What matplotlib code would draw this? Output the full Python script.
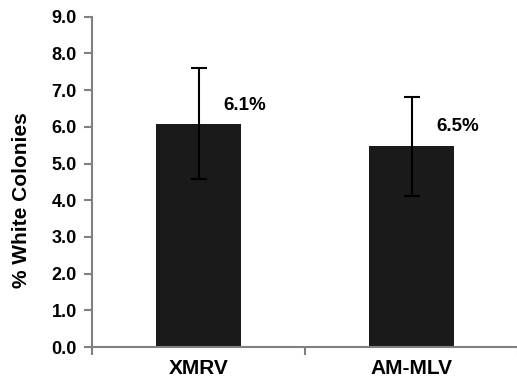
import matplotlib
matplotlib.use("Agg")
import matplotlib.pyplot as plt

categories = ["XMRV", "AM-MLV"]
values = [6.07, 5.48]
err_lower = [1.5, 1.37]
err_upper = [1.53, 1.34]
labels = ["6.1%", "6.5%"]
label_y = [6.59, 6.02]
yticks = [0, 1, 2, 3, 4, 5, 6, 7, 8, 9]

plt.rcParams['font.family'] = ['Liberation Sans', 'DejaVu Sans']
plt.rcParams['font.weight'] = 'bold'

fig = plt.figure(figsize=(5.17, 3.79), dpi=100)
ax = fig.add_axes([92/517, 1 - 347/379, (518 - 92)/517, (347 - 16.7)/379])

x = list(range(len(categories)))
ax.bar(x, values, width=0.395, color='#1a1a1a', zorder=2)
ax.errorbar(x, values, yerr=[err_lower, err_upper], fmt='none', ecolor='black',
            elinewidth=1.5, capsize=6, capthick=1.5, zorder=3)

for xi, lab, ly in zip(x, labels, label_y):
    ax.text(xi + 0.115, ly, lab, ha='left', va='center', fontsize=13.5, fontweight='bold')

ax.set_xlim(-0.5, 1.5)
ax.set_ylim(0, 9)
ax.set_yticks(yticks)
ax.set_yticklabels([f"{v:.1f}" for v in yticks], fontsize=13, fontweight='bold')
ax.set_xticks([-0.5, 0.5, 1.5])
ax.set_xticklabels([])
ax.set_xticks(x, minor=True)
ax.set_xticklabels(categories, minor=True, fontsize=15, fontweight='bold')
ax.tick_params(axis='x', which='minor', length=0, pad=9)
ax.tick_params(axis='x', which='major', length=6, width=1.5, color='#808080', direction='out')
ax.tick_params(axis='y', length=6, width=1.5, color='#808080', direction='out', pad=5)

for s in ['top', 'right']:
    ax.spines[s].set_visible(False)
for s in ['left', 'bottom']:
    ax.spines[s].set_color('#808080')
    ax.spines[s].set_linewidth(1.5)

ax.set_ylabel("% White Colonies", fontsize=15, fontweight='bold')
ax.yaxis.set_label_coords(-0.143, 0.445)

fig.savefig("out.png", dpi=100)
